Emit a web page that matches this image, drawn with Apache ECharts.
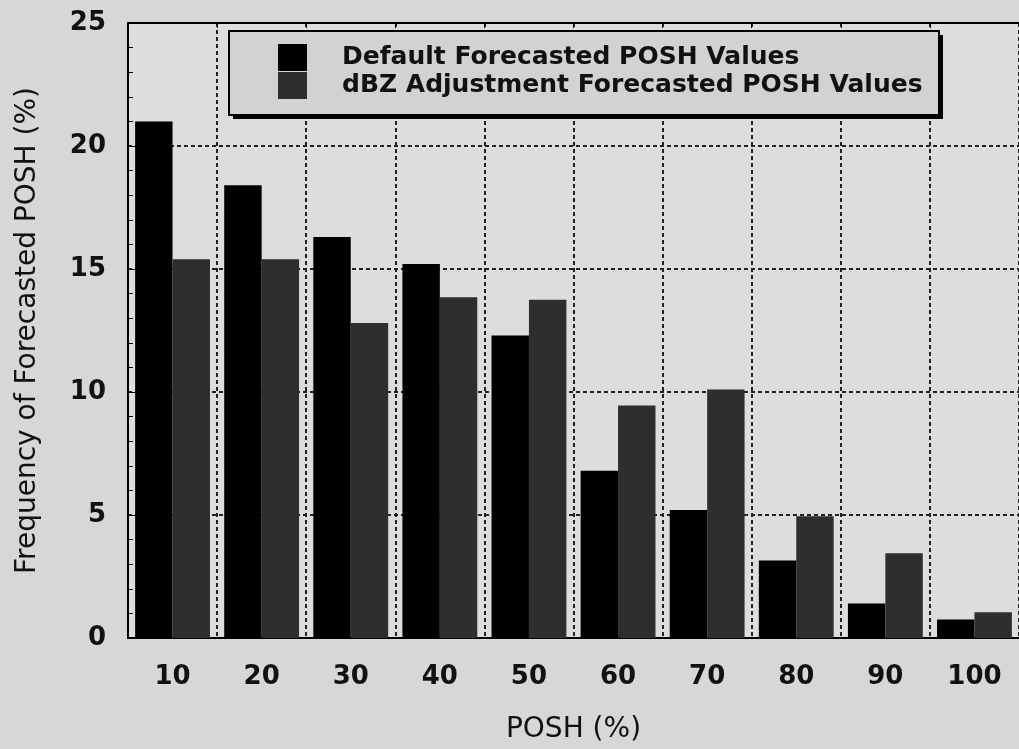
<!DOCTYPE html>
<html>
<head>
<meta charset="utf-8">
<script src="https://cdn.jsdelivr.net/npm/echarts@6/dist/echarts.min.js"></script>
<style>
html,body{margin:0;padding:0;background:#d7d7d7;}
#main{width:1019px;height:749px;}
</style>
</head>
<body>
<div id="main"></div>
<script>
var chart = echarts.init(document.getElementById('main'));
var poshCats = ['10', '20', '30', '40', '50', '60', '70', '80', '90', '100'];//X轴
var defaultVals = [21.0, 18.4, 16.3, 15.2, 12.3, 6.8, 5.2, 3.15, 1.4, 0.75];
var dbzVals = [15.4, 15.4, 12.8, 13.85, 13.75, 9.45, 10.1, 4.95, 3.45, 1.05];
var yTicks = [0, 25, 5];//min,max,interval
var font = 'DejaVu Sans';

var option = {
    backgroundColor: '#d7d7d7',
    animation: false,
    grid: {
        left: 128,
        top: 23,
        right: -9,
        bottom: 109,
        show: true,
        backgroundColor: '#dddddd',
        borderWidth: 0
    },
    //图例外框 + 阴影
    graphic: [{
        type: 'rect',
        left: 233,
        top: 35,
        z: 50,
        shape: {width: 710, height: 84},
        style: {fill: '#000'}
    }, {
        type: 'rect',
        left: 228,
        top: 30,
        z: 51,
        shape: {width: 710, height: 84},
        style: {fill: '#d2d2d2', stroke: '#000', lineWidth: 2}
    }],
    legend: {
        orient: 'vertical',
        left: 228,
        top: 30,
        z: 60,
        padding: [14, 22, 10, 50],
        itemWidth: 29,
        itemHeight: 27,
        itemGap: 1,
        icon: 'rect',
        textStyle: {
            fontFamily: font,
            fontWeight: 'bold',
            fontSize: 25,
            color: '#111',
            padding: [0, 0, 0, 30]
        },
        data: ['Default Forecasted POSH Values', 'dBZ Adjustment Forecasted POSH Values']
    },
    xAxis: [{
        type: 'category',
        data: poshCats,
        name: 'POSH (%)',
        nameLocation: 'middle',
        nameGap: 78,
        nameTextStyle: {fontFamily: font, fontSize: 28, color: '#111'},
        axisLine: {lineStyle: {color: '#000', width: 2}},
        axisTick: {show: false},
        axisLabel: {
            fontFamily: font,
            fontWeight: 'bold',
            fontSize: 26,
            color: '#111',
            margin: 26
        },
        splitLine: {
            show: true,
            lineStyle: {color: '#222', type: [4, 3], width: 2}
        }
    }, {
        //上边框
        type: 'category',
        position: 'top',
        data: poshCats,
        axisLine: {lineStyle: {color: '#000', width: 2}},
        axisTick: {show: true, inside: true, length: 5, lineStyle: {color: '#000'}},
        axisLabel: {show: false},
        splitLine: {show: false}
    }],
    yAxis: {
        type: 'value',
        min: yTicks[0],
        max: yTicks[1],
        interval: yTicks[2],
        name: 'Frequency of Forecasted POSH (%)',
        nameLocation: 'middle',
        nameGap: 86,
        nameTextStyle: {fontFamily: font, fontSize: 28, color: '#111'},
        axisLine: {show: true, lineStyle: {color: '#000', width: 2}},
        axisTick: {show: true, inside: true, length: 7, lineStyle: {color: '#000'}},
        minorTick: {show: true, splitNumber: 5, length: 5, lineStyle: {color: '#000'}},
        axisLabel: {
            fontFamily: font,
            fontWeight: 'bold',
            fontSize: 26,
            color: '#111',
            margin: 22
        },
        splitLine: {
            show: true,
            lineStyle: {color: '#222', type: [4, 3], width: 2}
        }
    },
    series: [{
        name: 'Default Forecasted POSH Values',
        type: 'bar',
        data: defaultVals,
        barGap: 0,
        barCategoryGap: '16%',
        itemStyle: {color: '#000'}
    }, {
        name: 'dBZ Adjustment Forecasted POSH Values',
        type: 'bar',
        data: dbzVals,
        barGap: 0,
        barCategoryGap: '16%',
        itemStyle: {color: '#2e2e2e'}
    }]
};
chart.setOption(option);
</script>
</body>
</html>
